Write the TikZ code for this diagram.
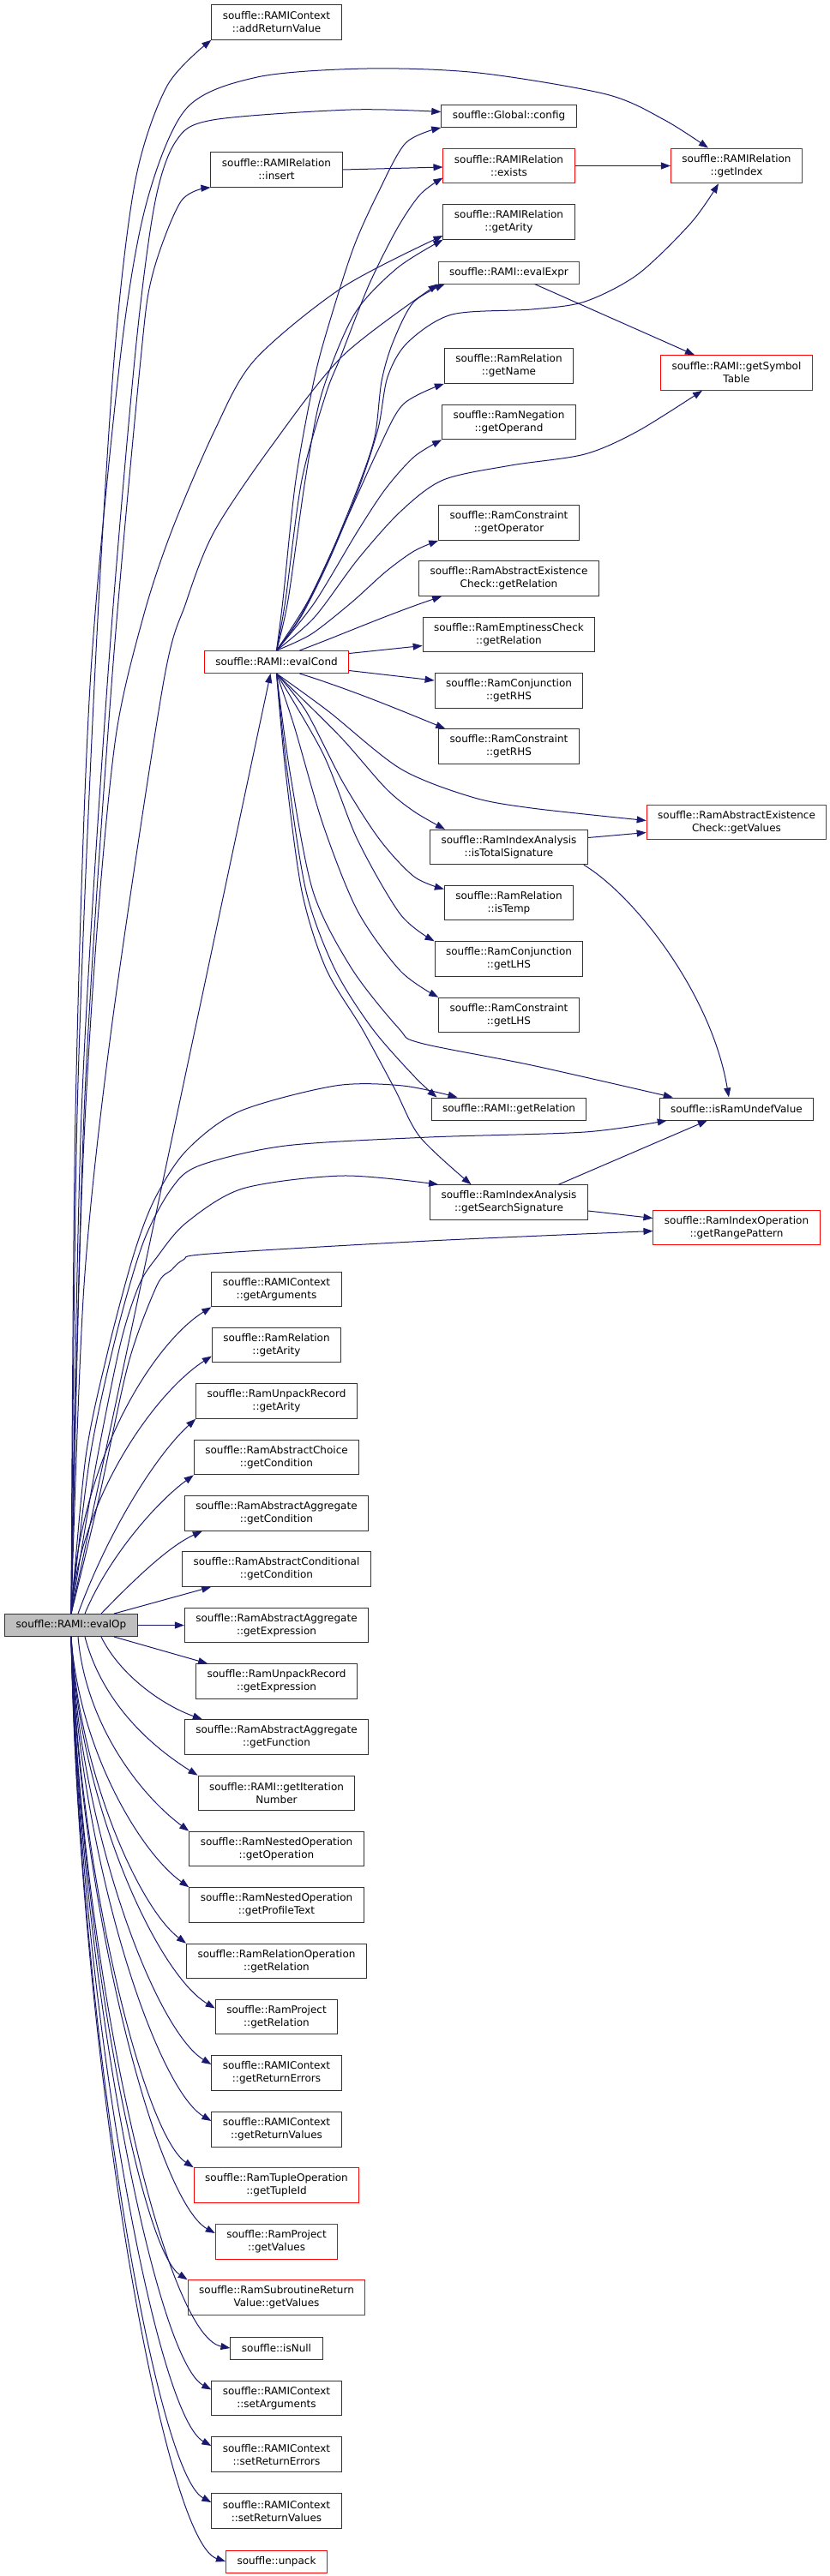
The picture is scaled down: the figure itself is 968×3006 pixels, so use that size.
\documentclass[tikz,border=0pt]{standalone}
\usepackage{fontspec}
\setmainfont{DejaVu Sans}
\usetikzlibrary{arrows.meta}
\definecolor{edgeblue}{HTML}{191970}
\definecolor{rootgray}{HTML}{BFBFBF}

\begin{document}
\begin{tikzpicture}[x=1pt, y=-1pt,
    func/.style={draw=black!80, line width=1pt, fill=white, align=center,
      font=\fontsize{12}{15}\selectfont, inner xsep=13pt, inner ysep=0pt, minimum height=40.6pt},
    func_one/.style={func, minimum height=26pt},
    func_red/.style={draw=red},
    func_root/.style={fill=rootgray},
    call/.style={draw=edgeblue, line width=1pt, -{Triangle[length=11pt,width=8pt]}}]
    % --- 1. 定義各欄的 x 座標 ---
    \def\xA{83}
    \def\xB{322.5}
    \def\xC{593.5}
    \def\xD{859}
    \useasboundingbox (0,0) rectangle (968,3006);

    % --- 2. 根節點 evalOp 與 evalCond ---
    \node[func_one, func_root] (evalOp) at (\xA,1896.5) {souffle::RAMI::evalOp};
    \node[func_one, func_red] (eval_cond) at (\xB,772.5) {souffle::RAMI::evalCond};

    % --- 3. 上方節點 ---
    \node[func] (ctx_add) at (\xB,26) {souffle::RAMIContext\\::addReturnValue};
    \node[func_one] (cfg) at (\xC,135.5) {souffle::Global::config};
    \node[func] (rel_insert) at (\xB,198) {souffle::RAMIRelation\\::insert};
    \node[func, func_red] (rel_exists) at (\xC,193.5) {souffle::RAMIRelation\\::exists};
    \node[func, func_red] (rel_index) at (\xD,193.5) {souffle::RAMIRelation\\::getIndex};
    \node[func] (rel_arity) at (\xC,259) {souffle::RAMIRelation\\::getArity};
    \node[func_one, func_red] (eval_expr) at (\xC,318) {souffle::RAMI::evalExpr};
    \node[func] (rr_name) at (\xC,427) {souffle::RamRelation\\::getName};
    \node[func, func_red] (sym_table) at (\xD,435) {souffle::RAMI::getSymbol\\Table};
    \node[func] (neg_operand) at (\xC,492.5) {souffle::RamNegation\\::getOperand};
    \node[func] (con_operator) at (\xC,610) {souffle::RamConstraint\\::getOperator};
    \node[func] (aec_relation) at (\xC,675) {souffle::RamAbstractExistence\\Check::getRelation};
    \node[func] (emp_relation) at (\xC,740.5) {souffle::RamEmptinessCheck\\::getRelation};
    \node[func] (conj_rhs) at (\xC,806) {souffle::RamConjunction\\::getRHS};
    \node[func] (con_rhs) at (\xC,871) {souffle::RamConstraint\\::getRHS};
    \node[func, func_red] (aec_values) at (\xD,959.5) {souffle::RamAbstractExistence\\Check::getValues};
    \node[func] (ia_total) at (\xC,988.5) {souffle::RamIndexAnalysis\\::isTotalSignature};
    \node[func] (rr_temp) at (\xC,1053.5) {souffle::RamRelation\\::isTemp};
    \node[func] (conj_lhs) at (\xC,1119) {souffle::RamConjunction\\::getLHS};
    \node[func] (con_lhs) at (\xC,1184.5) {souffle::RamConstraint\\::getLHS};
    \node[func_one] (rami_relation) at (\xC,1294) {souffle::RAMI::getRelation};
    \node[func_one] (undef) at (\xD,1294) {souffle::isRamUndefValue};
    \node[func] (ia_search) at (\xC,1403) {souffle::RamIndexAnalysis\\::getSearchSignature};
    \node[func, func_red] (io_range) at (\xD,1432.5) {souffle::RamIndexOperation\\::getRangePattern};

    % --- 4. 下方節點 (evalOp 直接呼叫) ---
    \node[func] (ctx_args) at (\xB,1504.5) {souffle::RAMIContext\\::getArguments};
    \node[func] (rr_arity) at (\xB,1569.5) {souffle::RamRelation\\::getArity};
    \node[func] (ur_arity) at (\xB,1635) {souffle::RamUnpackRecord\\::getArity};
    \node[func] (ach_cond) at (\xB,1700.5) {souffle::RamAbstractChoice\\::getCondition};
    \node[func] (agg_cond) at (\xB,1766) {souffle::RamAbstractAggregate\\::getCondition};
    \node[func] (cnd_cond) at (\xB,1831) {souffle::RamAbstractConditional\\::getCondition};
    \node[func] (agg_expr) at (\xB,1896.5) {souffle::RamAbstractAggregate\\::getExpression};
    \node[func] (ur_expr) at (\xB,1962) {souffle::RamUnpackRecord\\::getExpression};
    \node[func] (agg_func) at (\xB,2027) {souffle::RamAbstractAggregate\\::getFunction};
    \node[func] (rami_iter) at (\xB,2092.5) {souffle::RAMI::getIteration\\Number};
    \node[func] (nest_op) at (\xB,2157.5) {souffle::RamNestedOperation\\::getOperation};
    \node[func] (nest_text) at (\xB,2223) {souffle::RamNestedOperation\\::getProfileText};
    \node[func] (ro_relation) at (\xB,2288.5) {souffle::RamRelationOperation\\::getRelation};
    \node[func] (proj_relation) at (\xB,2353.5) {souffle::RamProject\\::getRelation};
    \node[func] (ctx_errors) at (\xB,2419) {souffle::RAMIContext\\::getReturnErrors};
    \node[func] (ctx_values) at (\xB,2485) {souffle::RAMIContext\\::getReturnValues};
    \node[func, func_red] (tuple_id) at (\xB,2550) {souffle::RamTupleOperation\\::getTupleId};
    \node[func, func_red] (proj_values) at (\xB,2616) {souffle::RamProject\\::getValues};
    \node[func, func_red] (sub_values) at (\xB,2681) {souffle::RamSubroutineReturn\\Value::getValues};
    \node[func_one] (is_null) at (\xB,2740) {souffle::isNull};
    \node[func] (ctx_setargs) at (\xB,2798.5) {souffle::RAMIContext\\::setArguments};
    \node[func] (ctx_seterr) at (\xB,2864) {souffle::RAMIContext\\::setReturnErrors};
    \node[func] (ctx_setval) at (\xB,2930) {souffle::RAMIContext\\::setReturnValues};
    \node[func_one, func_red] (unpack) at (\xB,2989) {souffle::unpack};

    % --- 5. evalOp 往上的長邊 ---
    \draw[call] plot[smooth] coordinates {(evalOp.north) (90,1300) (110,800) (133,420) (158,210) (195,100) (ctx_add.south west)};
    \draw[call] plot[smooth] coordinates {(evalOp.north) (88,1300) (105,800) (140,420) (170,240) (217,127) (300,90) (428,80) (558,85) (707,110) (775,140) ([xshift=-33pt]rel_index.north)};
    \draw[call] plot[smooth] coordinates {(evalOp.north) (95,1300) (125,800) (157,420) (180,240) (205,165) (248,140) (409,128) ([yshift=5pt]cfg.west)};
    \draw[call] plot[smooth] coordinates {(evalOp.north) (98,1300) (130,800) (164,420) (178,320) (211,235) (rel_insert.south west)};
    \draw[call] plot[smooth] coordinates {(evalOp.north) (95,1400) (112,1100) (135,860) (167,720) (200,620) (250,503) (297,420) (400,335) ([yshift=-16pt]rel_arity.west)};
    \draw[call] plot[smooth] coordinates {(evalOp.north) (98,1500) (130,1200) (190,800) (217,703) (250,620) (317,520) (400,415) (eval_expr.south west)};
    \draw[call] (evalOp.north) -- ([xshift=-7pt]eval_cond.south);
    \draw[call] plot[smooth] coordinates {(evalOp.north) (100,1700) (125,1580) (155,1467) (180,1400) (217,1343) (279,1297) (391,1267) (470,1267) ([xshift=-60pt]rami_relation.north)};
    \draw[call] plot[smooth] coordinates {(evalOp.north) (105,1700) (135,1560) (167,1450) (200,1387) (233,1360) (333,1337) (500,1327) (682,1321) ([xshift=9pt]undef.south west)};
    \draw[call] plot[smooth] coordinates {(evalOp.north) (110,1720) (140,1570) (162,1500) (183,1467) (217,1427) (283,1387) (400,1372) ([xshift=10pt]ia_search.north west)};
    \draw[call] plot[smooth] coordinates {(evalOp.north) (115,1750) (150,1590) (183,1500) (200,1482) (214,1470) (245,1463) (500,1448) ([yshift=-4pt]io_range.west)};

    % --- 6. evalOp 往第二欄的扇形邊 ---
    \draw[call] (evalOp.north) .. controls (92,1700) and (181,1566) .. (ctx_args.south west);
    \draw[call] (evalOp.north) .. controls (92,1748) and (182,1624) .. ([yshift=-13pt]rr_arity.west);
    \draw[call] ([xshift=8pt]evalOp.north) .. controls (125,1790) and (180,1700) .. (ur_arity.south west);
    \draw[call] ([xshift=16pt]evalOp.north) .. controls (125,1820) and (180,1755) .. (ach_cond.south west);
    \draw[call] ([xshift=35pt]evalOp.north) .. controls (150,1850) and (195,1805) .. ([xshift=21pt]agg_cond.south west);
    \draw[call] ([xshift=50pt]evalOp.north) -- ([xshift=34pt]cnd_cond.south west);
    \draw[call] (evalOp.east) -- (agg_expr.west);
    \draw[call] ([xshift=50pt]evalOp.south) -- ([xshift=14pt]ur_expr.north west);
    \draw[call] ([xshift=35pt]evalOp.south) .. controls (140,1955) and (190,1990) .. ([xshift=21pt]agg_func.north west);
    \draw[call] ([xshift=16pt]evalOp.south) .. controls (120,1990) and (180,2040) .. (rami_iter.north west);
    \draw[call] ([xshift=8pt]evalOp.south) .. controls (100,2012) and (163,2094) .. (nest_op.north west);
    \draw[call] (evalOp.south) .. controls (92,2041) and (163,2161) .. (nest_text.north west);
    \draw[call] (evalOp.south) .. controls (92,2071) and (163,2227) .. (ro_relation.north west);
    \draw[call] (evalOp.south) .. controls (92,2105) and (183,2303) .. ([yshift=10pt]proj_relation.west);
    \draw[call] (evalOp.south) .. controls (92,2134) and (181,2369) .. ([yshift=10pt]ctx_errors.west);
    \draw[call] (evalOp.south) .. controls (92,2164) and (181,2436) .. ([yshift=10pt]ctx_values.west);
    \draw[call] (evalOp.south) .. controls (92,2188) and (168,2491) .. (tuple_id.north west);
    \draw[call] (evalOp.south) .. controls (92,2223) and (183,2568) .. ([yshift=10pt]proj_values.west);
    \draw[call] (evalOp.south) .. controls (92,2247) and (163,2624) .. (sub_values.north west);
    \draw[call] (evalOp.south) .. controls (92,2283) and (190,2725) .. (is_null.west);
    \draw[call] (evalOp.south) .. controls (92,2305) and (181,2753) .. ([yshift=10pt]ctx_setargs.west);
    \draw[call] (evalOp.south) .. controls (92,2334) and (181,2818) .. ([yshift=10pt]ctx_seterr.west);
    \draw[call] (evalOp.south) .. controls (92,2364) and (181,2885) .. ([yshift=10pt]ctx_setval.west);
    \draw[call] (evalOp.south) .. controls (92,2395) and (190,2965) .. (unpack.west);

    % --- 7. evalCond 的邊 ---
    \draw[call] plot[smooth] coordinates {(eval_cond.north) (330,700) (345,560) (367,440) (387,367) (413,287) (440,227) (473,167) (cfg.south west)};
    \draw[call] plot[smooth] coordinates {(eval_cond.north) (333,700) (352,560) (380,460) (397,417) (430,333) (463,267) (490,227) ([yshift=-14pt]rel_exists.west)};
    \draw[call] plot[smooth] coordinates {(eval_cond.north) (336,700) (356,560) (375,460) (413,367) (463,313) (rel_arity.south west)};
    \draw[call] plot[smooth] coordinates {(eval_cond.north) (350,720) (383,653) (417,570) (437,510) (445,445) (458,400) (482,353) ([xshift=8pt]eval_expr.south west)};
    \draw[call] plot[smooth] coordinates {(eval_cond.north) (352,718) (385,651) (419,568) (441,500) (452,440) (475,400) (527,367) (620,361) (682,352) (744,320) (806,260) ([xshift=-21pt]rel_index.south)};
    \draw[call] plot[smooth] coordinates {(eval_cond.north) (360,700) (400,615) (440,527) (470,472) (rr_name.south west)};
    \draw[call] plot[smooth] coordinates {(eval_cond.north) (367,703) (417,620) (450,570) (483,533) (neg_operand.south west)};
    \draw[call] plot[smooth] coordinates {(eval_cond.north) (367,720) (417,653) (467,597) (517,560) (596,543) (682,530) (744,503) ([xshift=-40pt]sym_table.south)};
    \draw[call] plot[smooth] coordinates {(eval_cond.north) (363,740) (410,703) (450,667) (483,643) (con_operator.south west)};
    \draw[call] ([xshift=27pt]eval_cond.north) .. controls (400,740) and (450,718) .. ([xshift=27pt]aec_relation.south west);
    \draw[call] ([yshift=10pt]eval_cond.east) -- ([yshift=-13pt]emp_relation.west);
    \draw[call] ([yshift=-10pt]eval_cond.east) -- ([yshift=12pt]conj_rhs.west);
    \draw[call] ([xshift=27pt]eval_cond.south) .. controls (410,805) and (470,830) .. ([xshift=8pt]con_rhs.north west);
    \draw[call] plot[smooth] coordinates {(eval_cond.south) (383,830) (467,897) (550,930) (620,943) ([yshift=2pt]aec_values.west)};
    \draw[call] plot[smooth] coordinates {(eval_cond.south) (350,813) (400,863) (450,920) (483,947) ([xshift=18pt]ia_total.north west)};
    \draw[call] plot[smooth] coordinates {(eval_cond.south) (357,830) (400,913) (443,980) (483,1023) ([yshift=16pt]rr_temp.west)};
    \draw[call] plot[smooth] coordinates {(eval_cond.south) (377,880) (417,980) (467,1067) (conj_lhs.north west)};
    \draw[call] plot[smooth] coordinates {(eval_cond.south) (343,847) (377,963) (417,1063) (467,1133) (con_lhs.north west)};
    \draw[call] plot[smooth] coordinates {(eval_cond.south) (333,900) (352,1040) (380,1130) (422,1200) (460,1270) (490,1327) ([xshift=-44pt]ia_search.north)};
    \draw[call] plot[smooth] coordinates {(eval_cond.south) (335,900) (357,1040) (390,1130) (434,1200) (484,1257) ([xshift=7pt]rami_relation.north west)};
    \draw[call] plot[smooth] coordinates {(eval_cond.south) (338,900) (365,1040) (410,1130) (465,1200) (490,1217) (620,1243) ([xshift=16pt]undef.north west)};

    % --- 8. 其餘節點之間的邊 ---
    \draw[call] (rel_insert.east) -- ([yshift=-1.5pt]rel_exists.west);
    \draw[call] (rel_exists.east) -- (rel_index.west);
    \draw[call] ([xshift=30pt]eval_expr.south) -- ([xshift=-49pt]sym_table.north);
    \draw[call] ([yshift=11pt]ia_total.east) -- ([yshift=-12pt]aec_values.west);
    \draw[call] ([xshift=-5pt]ia_total.south east) .. controls (740,1045) and (830,1160) .. ([xshift=-9pt]undef.north);
    \draw[call] ([xshift=58pt]ia_search.north) -- ([xshift=-34pt]undef.south);
    \draw[call] ([yshift=-10pt]ia_search.east) -- ([yshift=11pt]io_range.west);
\end{tikzpicture}
\end{document}
